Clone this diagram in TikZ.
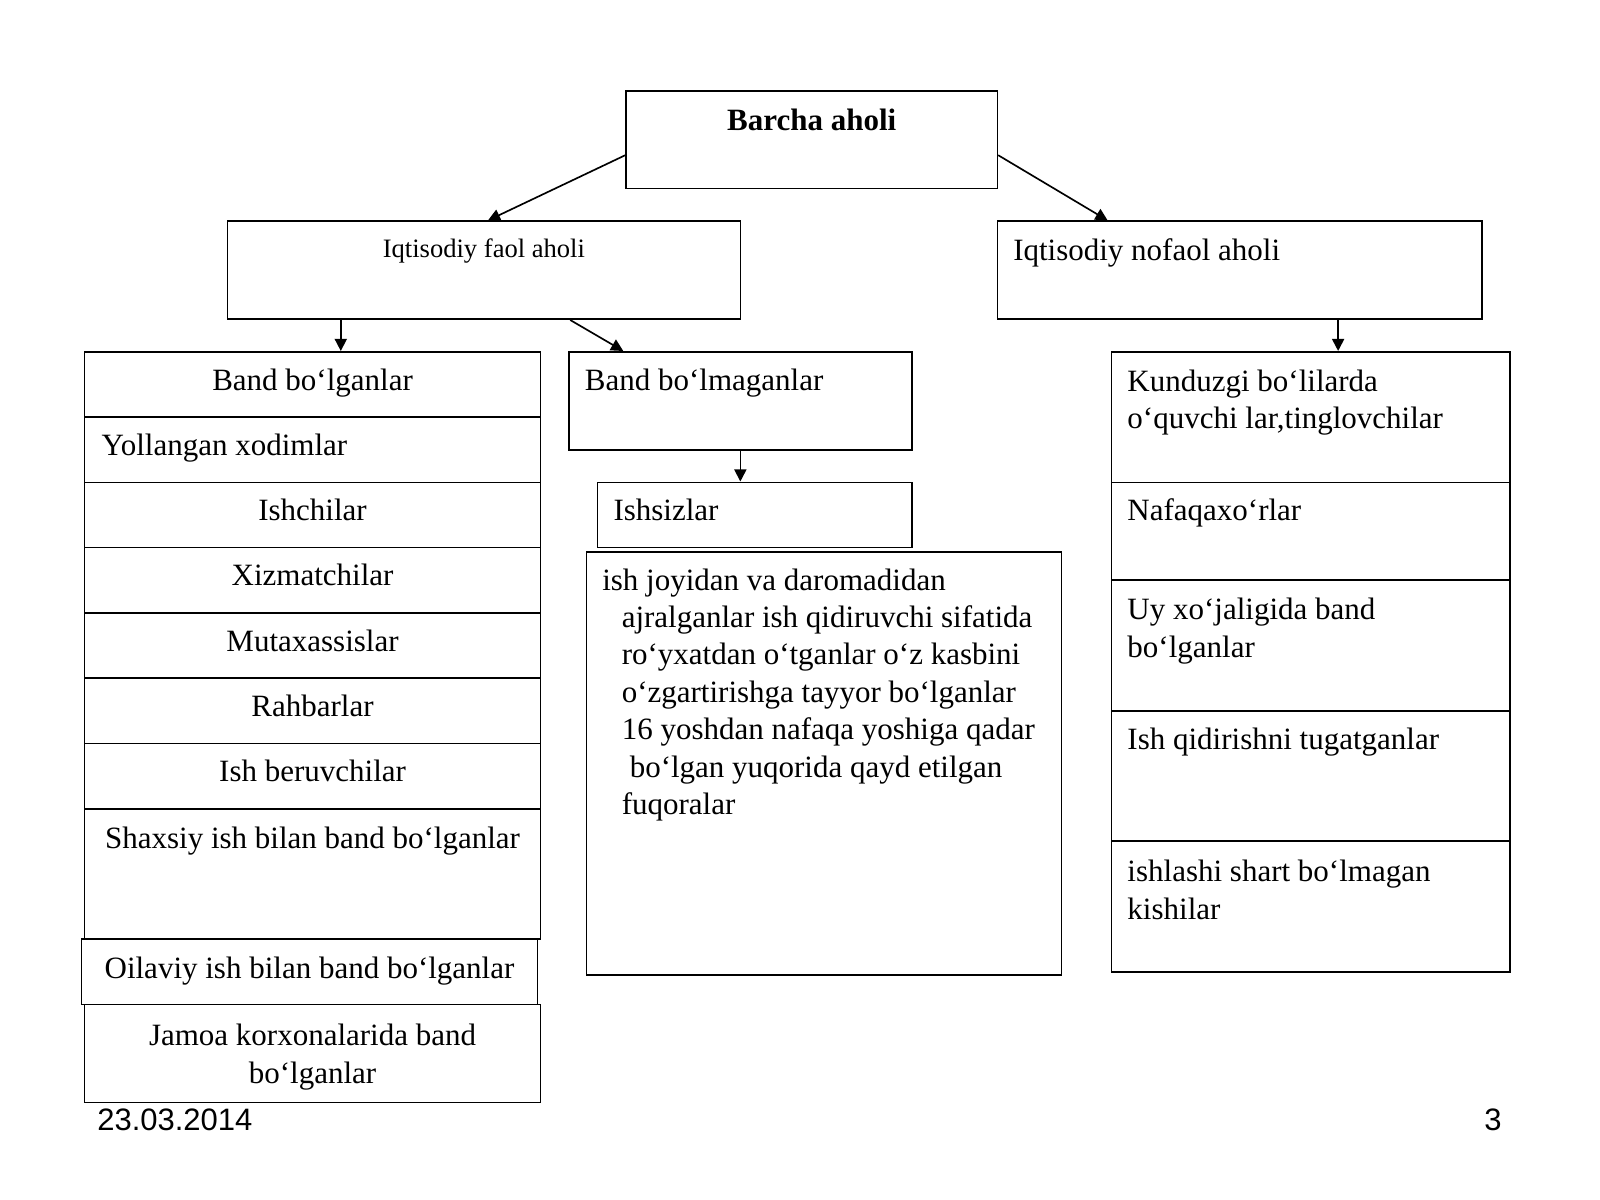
\documentclass[tikz,border=0pt]{standalone}
\usepackage{fontspec}
\setmainfont{Liberation Serif}
\newfontfamily\datefont{Liberation Sans}
\usetikzlibrary{arrows.meta,calc,fit}

\tikzset{
  box/.style={draw, line width=0.75pt, inner sep=0pt},
  txt/.style={inner sep=0pt, align=left, font=\fontsize{14pt}{16.9pt}\selectfont,
    execute at begin node={\rule{0pt}{11pt}}},
  txtc/.style={txt, align=center},
  arr/.style={-{Triangle[length=5.5pt,width=5.5pt]}, line width=0.75pt},
}

\begin{document}
\begin{tikzpicture}[x=0.4606pt, y=-0.4606pt]
      \useasboundingbox (0,0) rectangle (1569,1176);
      % top level
      \node [box, fit={(614,89) (978,185)}] (barcha) {};
      \node [box, fit={(223,217) (726,313)}] (faol) {};
      \node [box, fit={(978,217) (1453,313)}] (nofaol) {};
      \node [txtc, anchor=north] at ($(barcha.north)+(0,15)$) {\textbf{Barcha aholi}};
      \node [txtc, anchor=north, font=\fontsize{12pt}{14.4pt}\selectfont] at ($(faol.north)+(0,12)$) {Iqtisodiy faol aholi};
      \node [txt, anchor=north west] at ($(nofaol.north west)+(16,15)$) {Iqtisodiy nofaol aholi};
      % band bo'lganlar
      \node [box, fit={(83,345) (530,409)}] (bandl) {};
      \node [box, fit={(83,409) (530,473)}] (yollan) {};
      \node [box, fit={(83,473) (530,537)}] (ishchi) {};
      \node [box, fit={(83,537) (530,601)}] (xizmat) {};
      \node [box, fit={(83,601) (530,665)}] (mutax) {};
      \node [box, fit={(83,665) (530,729)}] (rahbar) {};
      \node [box, fit={(83,729) (530,793)}] (ishber) {};
      \node [box, fit={(83,793) (530,921)}] (shaxsiy) {};
      \node [box, fit={(80,921) (527,985)}] (oilaviy) {};
      \node [box, fit={(83,985) (530,1081)}] (jamoa) {};
      \node [txtc, anchor=north] at ($(bandl.north)+(0,14)$) {Band bo‘lganlar};
      \node [txt, anchor=north west] at ($(yollan.north west)+(17,14)$) {Yollangan xodimlar};
      \node [txtc, anchor=north] at ($(ishchi.north)+(0,14)$) {Ishchilar};
      \node [txtc, anchor=north] at ($(xizmat.north)+(0,14)$) {Xizmatchilar};
      \node [txtc, anchor=north] at ($(mutax.north)+(0,14)$) {Mutaxassislar};
      \node [txtc, anchor=north] at ($(rahbar.north)+(0,14)$) {Rahbarlar};
      \node [txtc, anchor=north] at ($(ishber.north)+(0,14)$) {Ish beruvchilar};
      \node [txtc, anchor=north] at ($(shaxsiy.north)+(0,16)$) {Shaxsiy ish bilan band bo‘lganlar};
      \node [txtc, anchor=north] at ($(oilaviy.north)+(0,15)$) {Oilaviy ish bilan band bo‘lganlar};
      \node [txtc, anchor=north] at ($(jamoa.north)+(0,20)$) {Jamoa korxonalarida band\\bo‘lganlar};
      % band bo'lmaganlar
      \node [box, fit={(558,345) (894,441)}] (bandm) {};
      \node [box, fit={(586,473) (894,537)}] (ishsiz) {};
      \node [box, fit={(575,541) (1041,956)}] (izoh) {};
      \node [txt, anchor=north west] at ($(bandm.north west)+(16,14)$) {Band bo‘lmaganlar};
      \node [txt, anchor=north west] at ($(ishsiz.north west)+(16,14)$) {Ishsizlar};
      \node [txt, anchor=north west] at ($(izoh.north west)+(16,17)$) {ish joyidan va daromadidan\\
        \hspace{8.8pt}ajralganlar ish qidiruvchi sifatida\\
        \hspace{8.8pt}ro‘yxatdan o‘tganlar o‘z kasbini\\
        \hspace{8.8pt}o‘zgartirishga tayyor bo‘lganlar\\
        \hspace{8.8pt}16 yoshdan nafaqa yoshiga qadar\\
        \hspace{12.4pt}bo‘lgan yuqorida qayd etilgan\\
        \hspace{8.8pt}fuqoralar};
      % nofaol aholi
      \node [box, fit={(1090,345) (1481,473)}] (kunduz) {};
      \node [box, fit={(1090,473) (1481,569)}] (nafaqa) {};
      \node [box, fit={(1090,569) (1481,697)}] (uyxoj) {};
      \node [box, fit={(1090,697) (1481,825)}] (ishqid) {};
      \node [box, fit={(1090,825) (1481,953)}] (ishlash) {};
      \node [txt, anchor=north west] at ($(kunduz.north west)+(16,18)$) {Kunduzgi bo‘lilarda\\o‘quvchi lar,tinglovchilar};
      \node [txt, anchor=north west] at ($(nafaqa.north west)+(16,14)$) {Nafaqaxo‘rlar};
      \node [txt, anchor=north west] at ($(uyxoj.north west)+(16,18)$) {Uy xo‘jaligida band\\bo‘lganlar};
      \node [txt, anchor=north west] at ($(ishqid.north west)+(16,14)$) {Ish qidirishni tugatganlar};
      \node [txt, anchor=north west] at ($(ishlash.north west)+(16,19)$) {ishlashi shart bo‘lmagan\\kishilar};
      % arrows
      \draw [arr] ($(barcha.north west)+(0,64)$) -- ($(faol.north)+(4,0)$);
      \draw [arr] ($(barcha.north east)+(0,64)$) -- ($(nofaol.north west)+(109,0)$);
      \draw [arr] ($(faol.south west)+(112,0)$) -- ($(bandl.north west)+(252,0)$);
      \draw [arr] ($(faol.south west)+(337,0)$) -- ($(bandm.north west)+(54,0)$);
      \draw [arr] (bandm.south) -- (bandm.south |- ishsiz.north);
      \draw [arr] ($(nofaol.south west)+(335,0)$) -- ($(kunduz.north west)+(223,0)$);
      % footer
      \node [anchor=base west, inner sep=0pt, font=\datefont\fontsize{14pt}{16.8pt}\selectfont] (datum) at (95,1109) {23.03.2014};
      \node [anchor=base east, inner sep=0pt, font=\datefont\fontsize{14pt}{16.8pt}\selectfont] (sahifa) at (1473,1109) {3};
\end{tikzpicture}
\end{document}
